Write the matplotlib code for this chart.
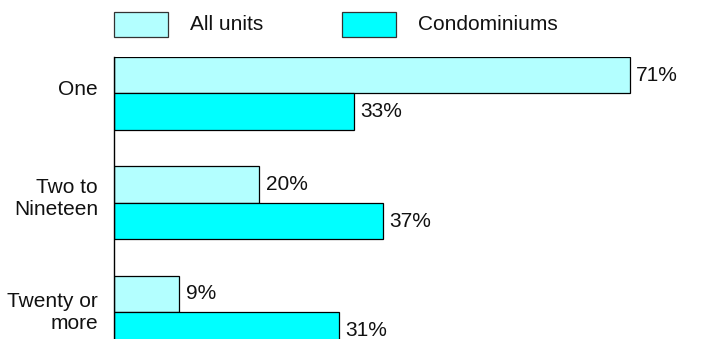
import matplotlib
matplotlib.use("Agg")
import matplotlib.pyplot as plt
from matplotlib.patches import Rectangle
from matplotlib.transforms import ScaledTranslation
import numpy as np

categories = ["One", "Two to\nNineteen", "Twenty or\nmore"]
all_units = [71, 20, 9]
condos = [33, 37, 31]
series_names = ["All units", "Condominiums"]
colors = ["#b3ffff", "#00ffff"]

plt.rcParams['font.family'] = ['Liberation Sans', 'DejaVu Sans']

W, H = 707, 339
fig = plt.figure(figsize=(W / 100, H / 100), dpi=100)
ax = fig.add_axes([114 / W, 0, (W - 114) / W, (H - 57) / H])

y = np.arange(len(categories))
h = 0.3333
b1 = ax.barh(y - h / 2, all_units, height=h, color=colors[0], edgecolor="black", linewidth=0.9)
b2 = ax.barh(y + h / 2, condos, height=h, color=colors[1], edgecolor="black", linewidth=0.9)

for bars, vals in ((b1, all_units), (b2, condos)):
    for bar, v in zip(bars, vals):
        ax.annotate(f"{v}%", (bar.get_width(), bar.get_y() + bar.get_height() / 2),
                    xytext=(4.5, 0), textcoords="offset points",
                    ha="left", va="center", fontsize=15, color="#111111")

ax.set_ylim(2.245, -0.3333)
ax.set_xlim(0, 81.6)
ax.set_yticks(y)
ax.set_yticklabels(categories, fontsize=15, linespacing=1.22, color="#111111")
for lab in ax.get_yticklabels():
    lab.set_verticalalignment("center")
ax.tick_params(axis="y", length=0, pad=11.5)
for lab, dy in zip(ax.get_yticklabels(), [4, 4, 0]):
    lab.set_transform(lab.get_transform() + ScaledTranslation(0, dy / 100, fig.dpi_scale_trans))
ax.set_xticks([])
for s in ("top", "right", "bottom"):
    ax.spines[s].set_visible(False)
ax.spines["left"].set_linewidth(1.0)

# legend
leg_x = [114, 342]
for x0, name, c in zip(leg_x, series_names, colors):
    fig.patches.append(Rectangle((x0 / W, 1 - 37 / H), 54 / W, 25 / H,
                                 transform=fig.transFigure, facecolor=c,
                                 edgecolor="#333333", linewidth=0.9))
    fig.text((x0 + 76) / W, 1 - 25 / H, name, ha="left", va="center",
             fontsize=15, color="#111111")

fig.savefig("out.png", dpi=100)
